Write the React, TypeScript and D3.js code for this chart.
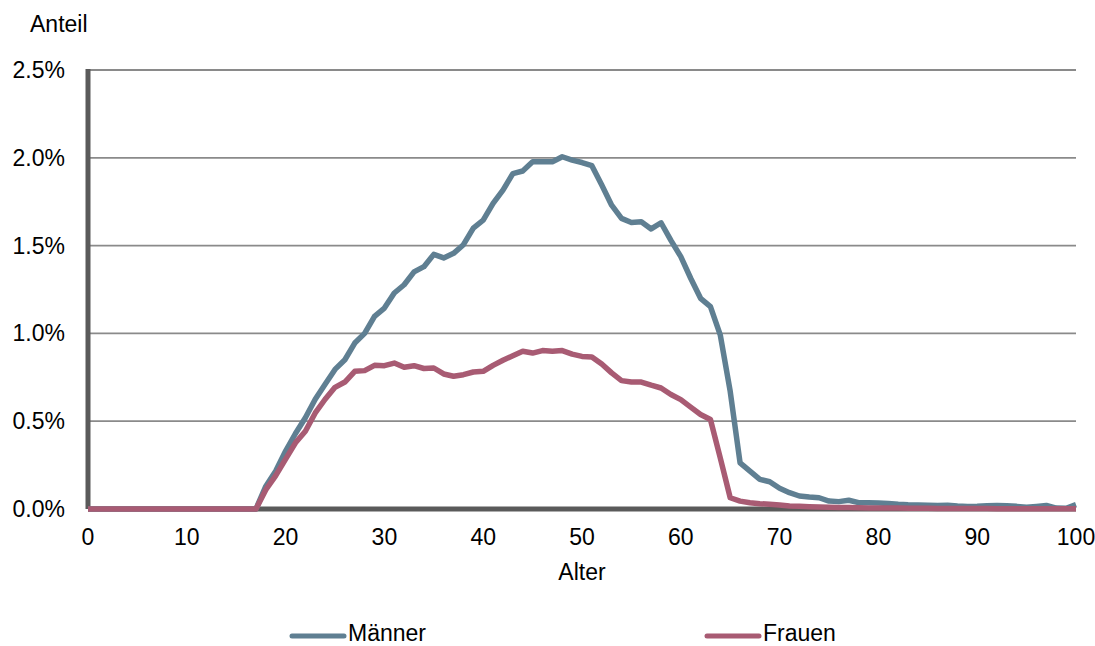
import React from "react";
import * as d3 from "d3";

const ages: number[] = d3.range(0, 101);

// Anteil in % by age 0..100
const maenner: number[] = [
  0, 0, 0, 0, 0, 0, 0, 0, 0, 0,
  0, 0, 0, 0, 0, 0, 0, 0, 0.13, 0.216,
  0.33, 0.43, 0.52, 0.625, 0.71, 0.795, 0.85, 0.945, 1.0, 1.097,
  1.144, 1.23, 1.277, 1.35, 1.38, 1.45, 1.43, 1.456, 1.505, 1.6,
  1.645, 1.74, 1.816, 1.91, 1.925, 1.977, 1.977, 1.977, 2.006, 1.987,
  1.973, 1.955, 1.845, 1.73, 1.655, 1.632, 1.636, 1.595, 1.63, 1.53,
  1.437, 1.314, 1.2, 1.153, 0.99, 0.67, 0.263, 0.216, 0.169, 0.155,
  0.118, 0.093, 0.074, 0.068, 0.064, 0.045, 0.042, 0.05, 0.036, 0.036,
  0.034, 0.032, 0.027, 0.024, 0.023, 0.022, 0.02, 0.022, 0.017, 0.014,
  0.015, 0.018, 0.02, 0.018, 0.015, 0.01, 0.015, 0.02, 0.005, 0.004,
  0.025,
];

const frauen: number[] = [
  0, 0, 0, 0, 0, 0, 0, 0, 0, 0,
  0, 0, 0, 0, 0, 0, 0, 0, 0.11, 0.19,
  0.284, 0.377, 0.443, 0.547, 0.625, 0.693, 0.723, 0.784, 0.788, 0.818,
  0.816, 0.831, 0.807, 0.816, 0.8, 0.803, 0.769, 0.756, 0.765, 0.78,
  0.784, 0.818, 0.847, 0.873, 0.898, 0.888, 0.902, 0.898, 0.902, 0.882,
  0.869, 0.866, 0.826, 0.775, 0.731, 0.723, 0.723, 0.705, 0.689, 0.652,
  0.623, 0.58, 0.538, 0.51, 0.29, 0.064, 0.045, 0.036, 0.03, 0.027,
  0.023, 0.017, 0.015, 0.013, 0.012, 0.01, 0.008, 0.008, 0.007, 0.006,
  0.006, 0.005, 0.005, 0.004, 0.004, 0.004, 0.003, 0.003, 0.003, 0.003,
  0.003, 0.003, 0.002, 0.002, 0.002, 0.002, 0.002, 0.002, 0.002, 0.002,
  0.002,
];

const xTicks: number[] = [0, 10, 20, 30, 40, 50, 60, 70, 80, 90, 100];
const yTicks: number[] = [0, 0.5, 1.0, 1.5, 2.0, 2.5];

const seriesNames: string[] = ["Männer", "Frauen"];
const seriesColors: string[] = ["#5f7f92", "#a85b73"];

export default function App() {
  const W = 1095;
  const H = 646;
  const left = 88;
  const right = 1076;
  const top = 70;
  const bottom = 509;

  const x = d3.scaleLinear().domain([0, 100]).range([left, right]);
  const y = d3.scaleLinear().domain([0, 2.5]).range([bottom, top]);

  const line = d3
    .line<number>()
    .x((_, i) => x(ages[i]))
    .y((d) => y(d));

  const font = "'Liberation Sans', Arial, Helvetica, sans-serif";
  const data = [maenner, frauen];
  const legendX = [290, 705];
  const fs = 23;

  return (
    <svg
      width={W}
      height={H}
      style={{ position: "absolute", left: 0, top: 0, background: "#fff" }}
      fontFamily={font}
    >
      {/* gridlines */}
      {yTicks
        .filter((t) => t > 0)
        .map((t) => (
          <line
            key={"g" + t}
            x1={left}
            x2={right}
            y1={y(t)}
            y2={y(t)}
            stroke="#8a8a8a"
            strokeWidth={1.8}
          />
        ))}
      {/* y axis */}
      <line x1={left} x2={left} y1={top - 1} y2={bottom} stroke="#5a5a5a" strokeWidth={5} />
      {/* x axis */}
      <line x1={left} x2={right} y1={bottom} y2={bottom} stroke="#5a5a5a" strokeWidth={5} />

      {/* y tick labels */}
      {yTicks.map((t) => (
        <text
          key={"yt" + t}
          x={65}
          y={y(t) + 8}
          textAnchor="end"
          fontSize={fs}
          fill="#000"
        >
          {t.toFixed(1) + "%"}
        </text>
      ))}
      {/* x tick labels */}
      {xTicks.map((t) => (
        <text
          key={"xt" + t}
          x={x(t)}
          y={545}
          textAnchor="middle"
          fontSize={fs}
          fill="#000"
        >
          {t}
        </text>
      ))}
      <text x={30} y={32} fontSize={fs} fill="#000">
        Anteil
      </text>
      <text x={(left + right) / 2} y={580} textAnchor="middle" fontSize={fs} fill="#000">
        Alter
      </text>

      {/* lines */}
      {data.map((d, i) => (
        <path
          key={"l" + i}
          d={line(d) || ""}
          fill="none"
          stroke={seriesColors[i]}
          strokeWidth={5.5}
          strokeLinejoin="round"
        />
      ))}

      {/* legend */}
      {seriesNames.map((n, i) => (
        <g key={"lg" + i}>
          <line
            x1={legendX[i] + 2}
            x2={legendX[i] + 54}
            y1={636}
            y2={636}
            stroke={seriesColors[i]}
            strokeWidth={5}
            strokeLinecap="round"
          />
          <text x={legendX[i] + 58} y={641} fontSize={fs} fill="#000">
            {n}
          </text>
        </g>
      ))}
    </svg>
  );
}
